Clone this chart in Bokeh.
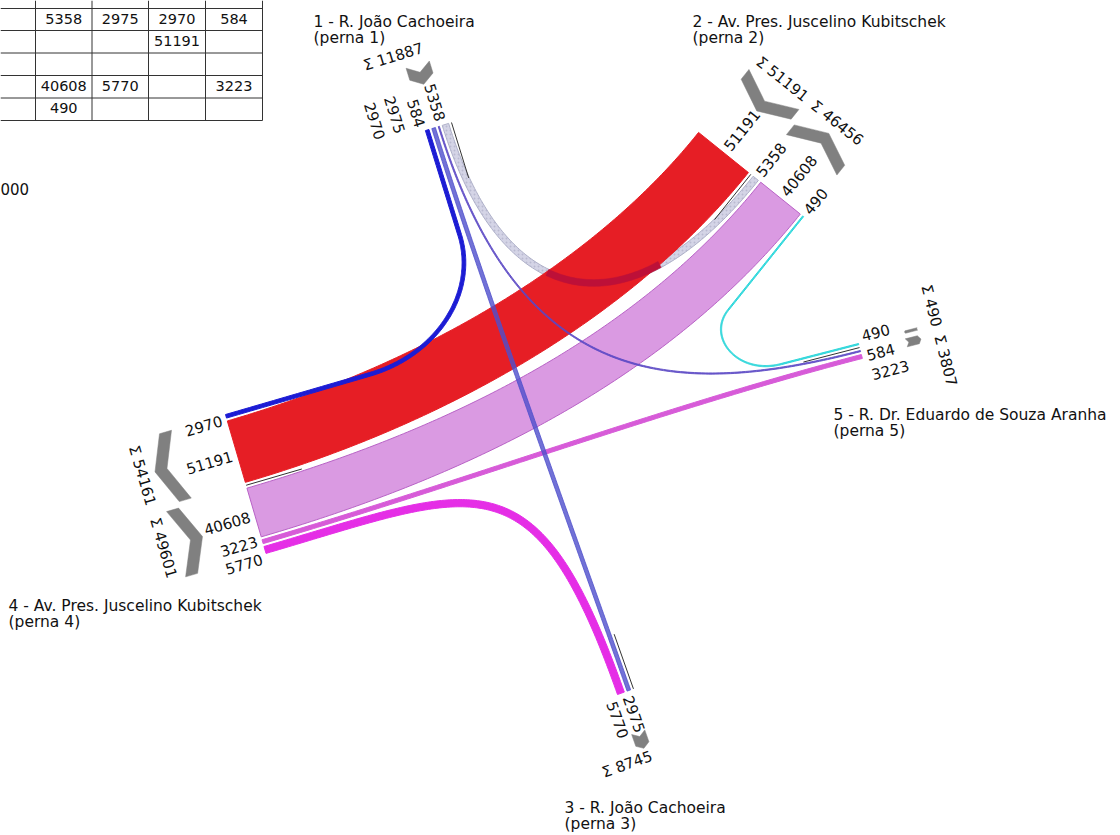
import numpy as np
from bokeh.plotting import figure
from bokeh.models import Range1d
from bokeh.embed import file_html
from bokeh.resources import INLINE
from bokeh.core.properties import value

# ---------------- data ----------------
leg_ids = [1, 2, 3, 4, 5]
leg_titles = ["1 - R. João Cachoeira",
              "2 - Av. Pres. Juscelino Kubitschek",
              "3 - R. João Cachoeira",
              "4 - Av. Pres. Juscelino Kubitschek",
              "5 - R. Dr. Eduardo de Souza Aranha"]
leg_subtitles = ["(perna 1)", "(perna 2)", "(perna 3)", "(perna 4)", "(perna 5)"]
flow_from = [1, 1, 1, 1, 2, 4, 4, 4, 5]
flow_to = [2, 3, 4, 5, 4, 2, 3, 5, 2]
flow_volume = [5358, 2975, 2970, 584, 51191, 40608, 5770, 3223, 490]
table_dest_cols = [2, 3, 4, 5]
table_orig_rows = [1, 2, 3, 4, 5]
scale_text = "000"

# ---------------- styles / layout ----------------
FONT = value("DejaVu Sans")
K = 1.25 / 1000.0
GAP = 3.0
MINW = 1.2
DIV = -1
flow_fill = ["#d4d4e6", "#4f4fcc", "#1c1cd4", "#5a48c4", "#e61e25",
             "#da9ae2", "#e52ee6", "#d75bd8", "#3fe0e3"]
flow_line = ["#aeb0c8", "#4f4fcc", "#1c1cd4", "#5a48c4", "#e61e25",
             "#b862c6", "#e52ee6", "#d75bd8", "#2fd6da"]
flow_alpha = [1, 0.8, 1, 0.85, 1, 1, 1, 1, 1]
# route shape: straight a0, handle h0, handle h3, straight a3
route = [(0, 200, 200, 0), (0, 150, 150, 0), (110, 60, 70, 150), (0, 270, 200, 0),
         (0, 180, 200, 0), (0, 220, 200, 0), (0, 220, 260, 0), (0, 200, 200, 0),
         (80, 45, 35, 120)]
draw_order = [0, 4, "ov", 5, 2, 8, 6, 7, 3, 1]

def nv(v):
    v = np.array(v, float)
    return v / np.linalg.norm(v)

legs = {
    1: dict(P=(424.9, 130.1), u=(0.955, -0.296), n=(-0.296, -0.955), order=[2, 1, 3, 0, DIV],
            lab=(21, -25), D=55, sn=80, sshift={"dep": -21, "arr": 0},
            title=(313, 21)),
    2: dict(P=(698, 132), u=(0.781, 0.625), n=(0.625, -0.781), order=[4, DIV, 0, 5, 8],
            lab=(19, 0), D=67, sn=94, sshift={"dep": 0, "arr": 0}, title=(692, 21)),
    3: dict(P=(617, 694), u=(0.943, -0.333), n=(0.333, 0.943), order=[6, 1, DIV],
            lab=(17.5, -7), D=51, sn=69, sshift={"dep": 0, "arr": -21}, title=(564, 807)),
    4: dict(P=(225, 414), u=(0.28, 0.96), n=(-0.96, 0.28), order=[2, 4, DIV, 5, 7, 6],
            lab=(18.5, 2.6), D=70, sn=97, sshift={"dep": 0, "arr": 0}, title=(8, 605)),
    5: dict(P=(858, 343), u=(0.25, 0.968), n=(0.968, -0.25), order=[8, DIV, 3, 7],
            lab=(20, 6), D=54, sn=80, sshift={"dep": -19, "arr": 27}, title=(833, 414)),
}
for L in legs.values():
    L["P"] = np.array(L["P"], float); L["u"] = nv(L["u"]); L["n"] = nv(L["n"])

def pos(leg, s, nn):
    L = legs[leg]
    return L["P"] + s * L["u"] + nn * L["n"]

# stacking along each leg
slot = {}
divs = {}
for lid, L in legs.items():
    s = 0.0
    for it in L["order"]:
        if it == DIV:
            divs[lid] = s
            s += GAP
        else:
            w = max(K * flow_volume[it], MINW)
            slot[(lid, it)] = (s, s + w)
            s += w + GAP

def bez(p0, p1, p2, p3, m):
    t = np.linspace(0, 1, m)[:, None]
    return (1 - t) ** 3 * p0 + 3 * (1 - t) ** 2 * t * p1 + 3 * (1 - t) * t ** 2 * p2 + t ** 3 * p3

def centerline(P0, d0, P3, d3, a0, h0, h3, a3):
    A = P0 + a0 * d0
    B = P3 - a3 * d3
    parts = []
    if a0 > 0:
        parts.append(P0 + np.linspace(0, a0, 12, endpoint=False)[:, None] * d0)
    parts.append(bez(A, A + h0 * d0, B - h3 * d3, B, 140))
    if a3 > 0:
        parts.append(B + np.linspace(0, a3, 13)[1:, None] * d3)
    return np.vstack(parts)

def band(c, w):
    d = np.gradient(c, axis=0)
    d /= np.linalg.norm(d, axis=1)[:, None]
    nr = np.column_stack([-d[:, 1], d[:, 0]])
    a = c + nr * w / 2
    b = c - nr * w / 2
    poly = np.vstack([a, b[::-1]])
    return poly[:, 0], poly[:, 1]

def inside(pts, poly):
    x, y = pts[:, 0], pts[:, 1]
    px, py = poly[:, 0], poly[:, 1]
    res = np.zeros(len(x), bool)
    j = len(px) - 1
    for i in range(len(px)):
        cond = ((py[i] > y) != (py[j] > y)) & (x < (px[j] - px[i]) * (y - py[i]) / (py[j] - py[i] + 1e-12) + px[i])
        res ^= cond
        j = i
    return res

centers, widths, polys = {}, {}, {}
for f in range(len(flow_volume)):
    o, d = flow_from[f], flow_to[f]
    so = np.mean(slot[(o, f)]); sd = np.mean(slot[(d, f)])
    P0 = pos(o, so, 0); P3 = pos(d, sd, 0)
    d0 = -legs[o]["n"]; d3 = legs[d]["n"]
    c = centerline(P0, d0, P3, d3, *route[f])
    w = max(K * flow_volume[f], MINW)
    centers[f] = c; widths[f] = w
    polys[f] = band(c, w)

# ---------------- figure ----------------
p = figure(width=1120, height=835, x_range=Range1d(0, 1120), y_range=Range1d(835, 0),
           output_backend="svg", toolbar_location=None, min_border=0,
           x_axis_location=None, y_axis_location=None)
p.grid.visible = False
p.outline_line_color = None
p.background_fill_color = "white"

for f in draw_order:
    if f == "ov":
        red = np.column_stack(polys[4])
        ins = inside(centers[0], red)
        idx = np.where(ins)[0]
        if len(idx) > 2:
            seg = centers[0][idx[0]:idx[-1] + 1]
            x, y = band(seg, widths[0])
            p.patch(x, y, fill_color="#bd1038", line_color="#bd1038", line_width=0.5)
        continue
    x, y = polys[f]
    if f == 0:
        p.patch(x, y, fill_color=flow_fill[f], line_color=flow_line[f], line_width=1,
                hatch_pattern="dot", hatch_color="#b4b4cc", hatch_scale=4, hatch_alpha=0.8)
    else:
        p.patch(x, y, fill_color=flow_fill[f], line_color=flow_line[f], line_width=1,
                fill_alpha=flow_alpha[f], line_alpha=flow_alpha[f])

# dividers
for lid, s in divs.items():
    a = pos(lid, s, 0); b = pos(lid, s, -58)
    p.line([a[0], b[0]], [a[1], b[1]], line_color="#333333", line_width=1)

# chevrons (sums)
T = 12.5
sum_lab = {"x": [], "y": [], "t": [], "a": []}
for lid, L in legs.items():
    groups = {"dep": [f for f in L["order"] if f != DIV and flow_from[f] == lid],
              "arr": [f for f in L["order"] if f != DIV and flow_to[f] == lid]}
    for g, fl in groups.items():
        if not fl:
            continue
        sa = min(slot[(lid, f)][0] for f in fl); sb = max(slot[(lid, f)][1] for f in fl)
        if sb - sa < 2.5:
            m = (sa + sb) / 2; sa, sb = m - 1.25, m + 1.25
        ln = sb - sa; dep = min(15.0, 0.33 * ln); sm = (sa + sb) / 2
        D = L["D"]
        if g == "dep":
            arm, tip = D + dep / 2, D - dep / 2
        else:
            arm, tip = D - dep / 2, D + dep / 2
        sn = [(sa, arm - T / 2), (sm, tip - T / 2), (sb, arm - T / 2),
              (sb, arm + T / 2), (sm, tip + T / 2), (sa, arm + T / 2)]
        pts = np.array([pos(lid, s, q) for s, q in sn])
        p.patch(pts[:, 0], pts[:, 1], fill_color="#808080", line_color="#808080", line_width=0.5)
        tot = sum(flow_volume[f] for f in fl)
        c = pos(lid, sm + L["sshift"][g], L["sn"])
        u = L["u"] if L["u"][0] >= 0 else -L["u"]
        sum_lab["x"].append(c[0]); sum_lab["y"].append(c[1])
        sum_lab["t"].append("Σ " + str(tot)); sum_lab["a"].append(-np.arctan2(u[1], u[0]))
p.text(x=sum_lab["x"], y=sum_lab["y"], text=sum_lab["t"], angle=sum_lab["a"],
       text_align="center", text_baseline="middle", text_font=FONT,
       text_font_size="15px", text_color="#111111")

# value labels
def spread(desired, sp):
    clusters = []
    for d in desired:
        clusters.append([d])
        while len(clusters) > 1:
            a, b = clusters[-2], clusters[-1]
            ea = np.mean(a) + sp * (len(a) - 1) / 2
            sb_ = np.mean(b) - sp * (len(b) - 1) / 2
            if sb_ < ea + sp:
                clusters[-2:] = [a + b]
            else:
                break
    out = []
    for c in clusters:
        m = np.mean(c); k = len(c)
        out += [m + sp * (i - (k - 1) / 2) for i in range(k)]
    return out

lab = {"left": {"x": [], "y": [], "t": [], "a": []}, "right": {"x": [], "y": [], "t": [], "a": []}}
for lid, L in legs.items():
    fl = [f for f in L["order"] if f != DIV]
    desired = [np.mean(slot[(lid, f)]) for f in fl]
    sp, sh = L["lab"]
    ss = spread(desired, sp)
    n = L["n"]
    if n[0] >= 0:
        r, al = n, "left"
    else:
        r, al = -n, "right"
    for f, s in zip(fl, ss):
        c = pos(lid, s + sh, 5)
        d = lab[al]
        d["x"].append(c[0]); d["y"].append(c[1]); d["t"].append(str(flow_volume[f]))
        d["a"].append(-np.arctan2(r[1], r[0]))
for al, d in lab.items():
    if d["x"]:
        p.text(x=d["x"], y=d["y"], text=d["t"], angle=d["a"], text_align=al,
               text_baseline="middle", text_font=FONT, text_font_size="15px",
               text_color="#111111")

# leg titles
tx, ty, tt = [], [], []
for lid, t1, t2 in zip(leg_ids, leg_titles, leg_subtitles):
    x0, y0 = legs[lid]["title"]
    tx += [x0, x0]; ty += [y0, y0 + 16.5]; tt += [t1, t2]
p.text(x=tx, y=ty, text=tt, text_align="left", text_baseline="alphabetic",
       text_font=FONT, text_font_size="15.5px", text_color="#111111")

# OD table (top-left, partially cut)
col_edges = [0, 35, 91.5, 148, 205, 262]
row_edges = [8, 30, 52.5, 75, 97.5, 120]
for y in row_edges:
    p.line([0, col_edges[-1]], [y, y], line_color="#333333", line_width=1)
for x in col_edges[1:]:
    p.line([x, x], [0, row_edges[-1]], line_color="#333333", line_width=1)
cx, cy, ct = [], [], []
for f in range(len(flow_volume)):
    ci = table_dest_cols.index(flow_to[f]); ri = table_orig_rows.index(flow_from[f])
    cx.append((col_edges[ci + 1] + col_edges[ci + 2]) / 2)
    cy.append((row_edges[ri] + row_edges[ri + 1]) / 2 - 1)
    ct.append(str(flow_volume[f]))
p.text(x=cx, y=cy, text=ct, text_align="center", text_baseline="middle",
       text_font=FONT, text_font_size="14.5px", text_color="#111111")
p.text(x=[0], y=[188], text=[scale_text], text_align="left", text_baseline="alphabetic",
       text_font=FONT, text_font_size="15px", text_color="#111111")

open("out.html", "w").write(file_html(p, INLINE))
